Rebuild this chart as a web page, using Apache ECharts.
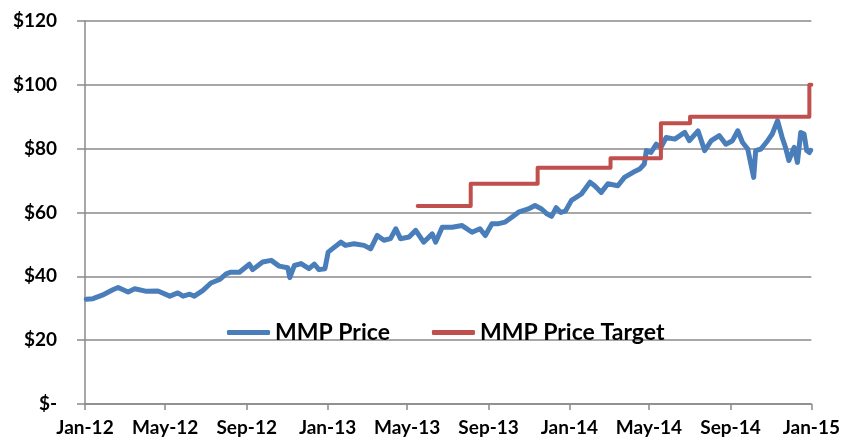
<!DOCTYPE html>
<html>
<head>
<meta charset="utf-8">
<script src="https://cdn.jsdelivr.net/npm/echarts@6/dist/echarts.min.js"></script>
<style>
  html, body { margin: 0; padding: 0; background: #fff; }
  #chart { width: 843px; height: 446px; }
</style>
</head>
<body>
<div id="chart"></div>
<script>
// MMP closing price (date, $)
const priceDates = [
  '2012-01-03', '2012-01-13', '2012-01-27', '2012-02-12', '2012-02-20', '2012-03-06', '2012-03-16',
  '2012-04-03', '2012-04-20', '2012-05-08', '2012-05-20', '2012-05-28', '2012-06-07', '2012-06-14',
  '2012-06-27', '2012-07-09', '2012-07-22', '2012-08-01', '2012-08-08', '2012-08-21', '2012-09-05',
  '2012-09-10', '2012-09-25', '2012-10-08', '2012-10-20', '2012-11-02', '2012-11-05', '2012-11-12',
  '2012-11-22', '2012-12-04', '2012-12-12', '2012-12-19', '2012-12-28', '2013-01-02', '2013-01-08',
  '2013-01-21', '2013-01-28', '2013-02-10', '2013-02-25', '2013-03-07', '2013-03-17', '2013-03-27',
  '2013-04-06', '2013-04-14', '2013-04-21', '2013-05-04', '2013-05-14', '2013-05-26', '2013-06-08',
  '2013-06-13', '2013-06-23', '2013-07-08', '2013-07-23', '2013-08-07', '2013-08-19', '2013-08-27',
  '2013-09-06', '2013-09-16', '2013-09-26', '2013-10-06', '2013-10-16', '2013-10-31', '2013-11-10',
  '2013-11-20', '2013-11-28', '2013-12-05', '2013-12-12', '2013-12-19', '2013-12-26', '2014-01-04',
  '2014-01-19', '2014-02-01', '2014-02-08', '2014-02-18', '2014-02-28', '2014-03-15', '2014-03-25',
  '2014-04-07', '2014-04-17', '2014-04-24', '2014-04-27', '2014-05-04', '2014-05-12', '2014-05-19',
  '2014-05-27', '2014-06-09', '2014-06-24', '2014-07-01', '2014-07-14', '2014-07-24', '2014-08-03',
  '2014-08-15', '2014-08-25', '2014-09-04', '2014-09-12', '2014-09-19', '2014-09-27', '2014-10-06',
  '2014-10-09', '2014-10-17', '2014-10-27', '2014-11-03', '2014-11-11', '2014-11-18', '2014-11-23',
  '2014-11-28', '2014-12-06', '2014-12-11', '2014-12-16', '2014-12-21', '2014-12-25', '2014-12-29',
  '2014-12-31'
];
const priceValues = [
  32.8, 33.0, 34.1, 35.8, 36.5, 35.1, 36.1,
  35.3, 35.4, 33.8, 34.8, 33.8, 34.4, 33.8,
  35.6, 37.9, 39.0, 40.8, 41.3, 41.3, 43.8,
  42.1, 44.5, 45.0, 43.2, 42.7, 39.6, 43.4,
  44.0, 42.4, 43.8, 42.1, 42.4, 47.6, 48.6,
  50.7, 49.7, 50.2, 49.7, 48.6, 52.8, 51.3,
  51.8, 54.9, 51.8, 52.3, 54.4, 50.7, 53.3,
  50.7, 55.4, 55.4, 55.9, 53.8, 54.9, 52.8,
  56.5, 56.5, 57.0, 58.5, 60.1, 61.1, 62.2,
  61.1, 59.6, 58.8, 61.5, 60.0, 60.5, 63.8,
  65.8, 69.5, 68.4, 66.3, 69.0, 68.4, 71.0,
  72.6, 73.6, 75.2, 79.4, 78.8, 81.4, 80.4,
  83.5, 83.0, 85.1, 82.5, 85.6, 79.4, 82.5,
  84.1, 81.4, 82.5, 85.6, 82.0, 79.9, 71.0,
  79.4, 79.9, 82.5, 84.6, 88.8, 83.5, 80.4,
  76.3, 80.4, 75.7, 85.1, 84.6, 79.4, 78.8,
  79.5
];

// analyst price target, changes on these dates
const targetDates = ['2013-05-17', '2013-08-05', '2013-11-14', '2014-03-04', '2014-05-19', '2014-07-02', '2014-12-29', '2015-01-01'];
const targetValues = [62, 69, 74, 77, 88, 90, 100, 100];

const tickDates = ['2012-01-01', '2012-05-01', '2012-09-01', '2013-01-01', '2013-05-01', '2013-09-01', '2014-01-01', '2014-05-01', '2014-09-01', '2015-01-01'];
const tickLabels = ['Jan-12', 'May-12', 'Sep-12', 'Jan-13', 'May-13', 'Sep-13', 'Jan-14', 'May-14', 'Sep-14', 'Jan-15'];

const yTicks = [0, 20, 40, 60, 80, 100, 120];

// dates -> days since the first tick, so the x axis is a plain value axis
const DAY = 86400000
function dayNo (s) {
  const p = s.split('-')
  return Math.round((Date.UTC(+p[0], +p[1] - 1, +p[2]) - Date.UTC(2012, 0, 1)) / DAY)
}

const tickDays = tickDates.map(dayNo)
const labelByDay = {}
tickDays.forEach((d, i) => { labelByDay[d] = tickLabels[i] })

const fontFamily = 'Lato, "Open Sans", "Liberation Sans", sans-serif'
const gray = '#8a8a8a'

let chart = echarts.init(document.getElementById('chart'))
chart.setOption({
  animation: false,
  grid: { left: 85, right: 29, top: 21, bottom: 42, containLabel: false },
  legend: {
    data: ['MMP Price', 'MMP Price Target'],
    left: 222,
    top: 316,
    icon: 'roundRect',
    itemWidth: 43,
    itemHeight: 5,
    itemGap: 42,
    textStyle: { fontFamily: fontFamily, fontWeight: 'bold', fontSize: 23, color: '#000' }
  },
  xAxis: {
    type: 'value',
    min: tickDays[0],
    max: tickDays[tickDays.length - 1],
    axisLine: { lineStyle: { color: gray, width: 1.5 } },
    axisTick: { show: true, length: 6, customValues: tickDays, lineStyle: { color: gray, width: 1.5 } },
    axisLabel: {
      customValues: tickDays,
      formatter: v => labelByDay[v] || '',
      fontFamily: fontFamily,
      fontWeight: 'bold',
      fontSize: 19,
      color: '#000',
      margin: 14
    },
    splitLine: { show: false }
  },
  yAxis: {
    type: 'value',
    min: yTicks[0],
    max: yTicks[yTicks.length - 1],
    interval: 20,
    axisLine: { show: true, lineStyle: { color: gray, width: 1.5 } },
    axisTick: { show: true, length: 8, lineStyle: { color: gray, width: 1.5 } },
    axisLabel: {
      formatter: v => v === 0 ? '$-' : '$' + v,
      fontFamily: fontFamily,
      fontWeight: 'bold',
      fontSize: 19,
      color: '#000',
      margin: 28
    },
    splitLine: { lineStyle: { color: gray, width: 1.5 } }
  },
  series: [
    {
      name: 'MMP Price',
      type: 'line',
      data: priceDates.map((d, i) => [dayNo(d), priceValues[i]]),
      showSymbol: false,
      symbol: 'none',
      color: '#4A7EBB',
      lineStyle: { width: 5, cap: 'round', join: 'round' }
    },
    {
      name: 'MMP Price Target',
      type: 'line',
      step: 'end',
      data: targetDates.map((d, i) => [dayNo(d), targetValues[i]]),
      showSymbol: false,
      symbol: 'none',
      color: '#C0504D',
      lineStyle: { width: 4, cap: 'round', join: 'round' }
    }
  ]
})
</script>
</body>
</html>
